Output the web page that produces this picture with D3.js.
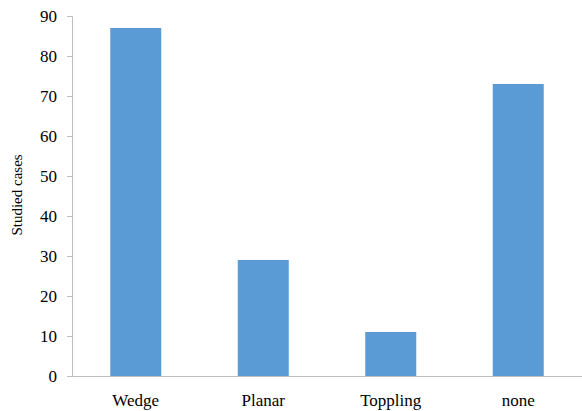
<!DOCTYPE html>
<html>
<head>
<meta charset="utf-8">
<script src="https://cdn.jsdelivr.net/npm/d3@7"></script>
<style>
  body { margin: 0; background: #fff; }
</style>
</head>
<body>
<div class="canvas"></div>
<script>
// data
const categories = ["Wedge", "Planar", "Toppling", "none"];
const cases = [87, 29, 11, 73];
const yTicks = [0, 10, 20, 30, 40, 50, 60, 70, 80, 90];

const serif = "Liberation Serif";

// set the dimensions and margins of the graph
const margin = {top: 16, right: 0, bottom: 35, left: 72},
    width = 582 - margin.left - margin.right,
    height = 411 - margin.top - margin.bottom;

const svg = d3.select(".canvas")
  .append("svg")
    .attr("width", width + margin.left + margin.right)
    .attr("height", height + margin.top + margin.bottom)
  .append("g")
    .attr("transform", `translate(${margin.left},${margin.top})`);

const x = d3.scaleBand()
    .domain(categories)
    .range([0, width])
    .paddingInner(0.6)
    .paddingOuter(0.3);

const y = d3.scaleLinear()
    .domain([0, 90])
    .range([height, 0]);

// bars
svg.selectAll("rect")
    .data(categories)
    .join("rect")
      .attr("x", d => x(d))
      .attr("y", (d, i) => y(cases[i]))
      .attr("width", x.bandwidth())
      .attr("height", (d, i) => height - y(cases[i]))
      .style("fill", "#5b9bd5");

// Y axis
const yAxis = svg.append("g")
    .call(d3.axisLeft(y).tickValues(yTicks).tickSize(5).tickPadding(10));
yAxis.attr("font-family", serif).attr("font-size", 17);
yAxis.select(".domain").attr("stroke", "#bfbfbf");
yAxis.selectAll(".tick line").attr("stroke", "#bfbfbf");
yAxis.selectAll(".tick text").attr("fill", "#000");

// X axis
const xAxis = svg.append("g")
    .attr("transform", `translate(0, ${height})`)
    .call(d3.axisBottom(x).tickSize(0).tickPadding(18).tickSizeOuter(0));
xAxis.attr("font-family", serif).attr("font-size", 17);
xAxis.select(".domain").attr("stroke", "#bfbfbf");
xAxis.selectAll(".tick text").attr("fill", "#000");

// Y axis label
svg.append("text")
    .attr("text-anchor", "middle")
    .attr("transform", "rotate(-90)")
    .attr("y", -margin.left + 22)
    .attr("x", -height / 2 + 1)
    .attr("font-family", serif)
    .attr("font-size", 15)
    .text("Studied cases");
</script>
</body>
</html>
